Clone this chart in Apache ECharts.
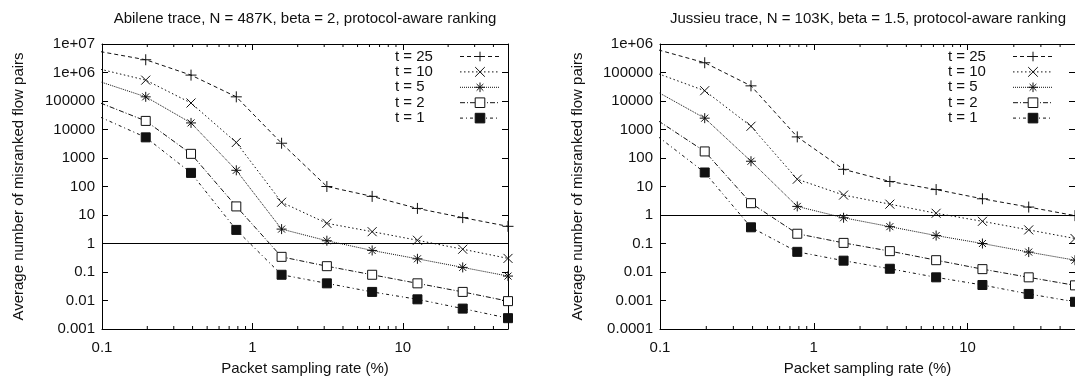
<!DOCTYPE html>
<html>
<head>
<meta charset="utf-8">
<script src="https://cdn.jsdelivr.net/npm/echarts@6/dist/echarts.min.js"></script>
<style>
html,body{margin:0;padding:0;background:#fff;}
#chart{width:1075px;height:381px;}
</style>
</head>
<body>
<div id="chart"></div>
<script>
// ---- data ----
const samplingRates = [0.09765625, 0.1953125, 0.390625, 0.78125, 1.5625, 3.125, 6.25, 12.5, 25, 50];
const seriesNames = ['t = 25', 't = 10', 't = 5', 't = 2', 't = 1'];

// Abilene trace
const abileneT25 = [5.4e6, 2.8e6, 8.1e5, 1.4e5, 3300, 100, 45, 17, 8.1, 4.0];
const abileneT10 = [1.3e6, 5.4e5, 8.5e4, 3500, 28, 5.1, 2.6, 1.3, 0.63, 0.30];
const abileneT5  = [4.7e5, 1.4e5, 1.7e4, 370, 3.2, 1.25, 0.57, 0.29, 0.145, 0.072];
const abileneT2  = [8.5e4, 2.0e4, 1400, 20, 0.34, 0.16, 0.08, 0.04, 0.02, 0.0095];
const abileneT1  = [2.7e4, 5300, 300, 3.0, 0.08, 0.04, 0.02, 0.011, 0.0052, 0.0024];

// Jussieu trace
const jussieuT25 = [6.2e5, 2.2e5, 3.4e4, 550, 40, 15, 7.8, 3.7, 1.9, 0.95];
const jussieuT10 = [9.0e4, 2.3e4, 1300, 18, 5.0, 2.4, 1.15, 0.6, 0.30, 0.15];
const jussieuT5  = [2.0e4, 2500, 77, 2.0, 0.8, 0.39, 0.19, 0.10, 0.05, 0.026];
const jussieuT2  = [2000, 170, 2.6, 0.22, 0.105, 0.054, 0.026, 0.0126, 0.0065, 0.0034];
const jussieuT1  = [550, 31, 0.37, 0.051, 0.025, 0.013, 0.0065, 0.0035, 0.0017, 0.0009];

const xMin = 0.1, xMax = 50;
const yRangeAbilene = [0.001, 1e7];
const yRangeJussieu = [0.0001, 1e6];
const refLineValue = 1;
const minorTickValues = [0.2,0.3,0.4,0.5,0.6,0.7,0.8,0.9,2,3,4,5,6,7,8,9,20,30,40];
const titles = ['Abilene trace, N = 487K, beta = 2, protocol-aware ranking',
                'Jussieu trace, N = 103K, beta = 1.5, protocol-aware ranking'];
const xName = 'Packet sampling rate (%)';
const yName = 'Average number of misranked flow pairs';

// ---- styling ----
const FONT = "'Liberation Sans', Arial, Helvetica, sans-serif";
const TXT = '#111';
const FS = 15;
const styles = [
  {symbol: 'path://M0,5H10M5,0V10', size: 11, dash: [4, 3], fill: 'rgba(0,0,0,0)'},
  {symbol: 'path://M0,0L10,10M10,0L0,10', size: 9, dash: [1.5, 2.5], fill: 'rgba(0,0,0,0)'},
  {symbol: 'path://M0,5H10M5,0V10M1.5,1.5L8.5,8.5M8.5,1.5L1.5,8.5', size: 10, dash: [1, 1], fill: 'rgba(0,0,0,0)'},
  {symbol: 'rect', size: 9, dash: [5, 2, 1, 2], fill: '#fff'},
  {symbol: 'rect', size: 9, dash: [3, 3, 1, 3], fill: '#111'}
];

const grids = [
  {left: 102, top: 44, width: 406, height: 290},
  {left: 660, top: 44, width: 416, height: 290}
];
const legendLefts = [395, 948];
const yNameGaps = [76, 75];

function yFmt(v) {
  const e = Math.round(Math.log10(v));
  if (e >= 6) return '1e+' + String(e).padStart(2, '0');
  if (e >= 0) return String(Math.pow(10, e));
  return Math.pow(10, e).toFixed(-e);
}
function xFmt(v) {
  const e = Math.round(Math.log10(v));
  if (e >= 0) return String(Math.pow(10, e));
  return Math.pow(10, e).toFixed(-e);
}

const xAxes = [], yAxes = [], series = [], legends = [], titleOpts = [];
const datasets = [
  [abileneT25, abileneT10, abileneT5, abileneT2, abileneT1],
  [jussieuT25, jussieuT10, jussieuT5, jussieuT2, jussieuT1]
];
const yRanges = [yRangeAbilene, yRangeJussieu];

grids.forEach((g, gi) => {
  const axLine = {show: true, lineStyle: {color: '#000', width: 1}};
  const tick = {show: true, inside: true, length: 6, lineStyle: {color: '#000', width: 1}};
  xAxes.push({
    type: 'log', logBase: 10, gridIndex: gi, position: 'bottom', min: xMin, max: xMax,
    axisLine: axLine, axisTick: tick, splitLine: {show: false},
    axisLabel: {show: true, margin: 11, fontSize: FS, fontFamily: FONT, color: TXT, showMaxLabel: false, formatter: xFmt},
    name: xName, nameLocation: 'middle', nameGap: 32,
    nameTextStyle: {fontSize: FS, fontFamily: FONT, color: TXT}
  });
  xAxes.push({
    type: 'log', logBase: 10, gridIndex: gi, position: 'top', min: xMin, max: xMax,
    axisLine: axLine, axisTick: tick, splitLine: {show: false}, axisLabel: {show: false}
  });
  const yr = yRanges[gi];
  yAxes.push({
    type: 'log', logBase: 10, gridIndex: gi, position: 'left', min: yr[0], max: yr[1], interval: 1, splitNumber: 10,
    axisLine: axLine, axisTick: tick, splitLine: {show: false},
    axisLabel: {show: true, margin: 7, fontSize: FS, fontFamily: FONT, color: TXT, formatter: yFmt},
    name: yName, nameLocation: 'middle', nameGap: yNameGaps[gi],
    nameTextStyle: {fontSize: FS, fontFamily: FONT, color: TXT}
  });
  yAxes.push({
    type: 'log', logBase: 10, gridIndex: gi, position: 'right', min: yr[0], max: yr[1], interval: 1, splitNumber: 10,
    axisLine: axLine, axisTick: tick, splitLine: {show: false}, axisLabel: {show: false}
  });

  const xi = gi * 2, yi = gi * 2;
  datasets[gi].forEach((vals, si) => {
    const st = styles[si];
    const s = {
      type: 'line', name: seriesNames[si], xAxisIndex: xi, yAxisIndex: yi,
      data: samplingRates.map((x, k) => [x, vals[k]]),
      symbol: st.symbol, symbolSize: st.size, showAllSymbol: true, clip: true,
      lineStyle: {color: '#111', width: 1, type: st.dash},
      itemStyle: {color: st.fill, borderColor: '#111', borderWidth: 1},
      emphasis: {disabled: true}, silent: true, z: 3 + si
    };
    if (si === 0) {
      s.markLine = {
        silent: true, symbol: ['none', 'none'], label: {show: false}, animation: false,
        lineStyle: {color: '#000', width: 1, type: 'solid'},
        data: [{yAxis: refLineValue}]
      };
    }
    series.push(s);
  });
  // minor x ticks (bottom and top), positioned through the axis scale
  series.push({
    type: 'custom', xAxisIndex: xi, yAxisIndex: yi, silent: true, clip: false, z: 1,
    data: minorTickValues.map(v => [v, yr[0]]),
    renderItem: function (params, api) {
      const x = api.coord([api.value(0), api.value(1)])[0];
      const cs = params.coordSys;
      const yb = cs.y + cs.height, yt = cs.y;
      return {type: 'group', children: [
        {type: 'line', shape: {x1: x, y1: yb, x2: x, y2: yb - 3}, style: {stroke: '#000', lineWidth: 1}},
        {type: 'line', shape: {x1: x, y1: yt, x2: x, y2: yt + 3}, style: {stroke: '#000', lineWidth: 1}}
      ]};
    }
  });

  legends.push({
    orient: 'vertical', left: legendLefts[gi], top: 49, align: 'right',
    itemWidth: 40, itemHeight: 12, itemGap: 0.4, padding: 0,
    data: seriesNames, selectedMode: false,
    itemStyle: {borderWidth: 1},
    lineStyle: {width: 1},
    textStyle: {fontSize: FS, fontFamily: FONT, color: TXT, lineHeight: 15,
      rich: {a: {width: 60, align: 'left', fontSize: FS, fontFamily: FONT, color: TXT, lineHeight: 15}}},
    formatter: '{a|{name}}'
  });
  titleOpts.push({
    text: titles[gi], left: g.left + g.width / 2, top: 11, textAlign: 'center', padding: 0,
    textStyle: {fontSize: FS, fontWeight: 'normal', fontFamily: FONT, color: TXT}
  });
});

const chart = echarts.init(document.getElementById('chart'), null, {renderer: 'canvas'});
chart.setOption({
  backgroundColor: '#fff',
  animation: false,
  title: titleOpts,
  legend: legends,
  grid: grids,
  xAxis: xAxes,
  yAxis: yAxes,
  series: series
});
</script>
</body>
</html>
